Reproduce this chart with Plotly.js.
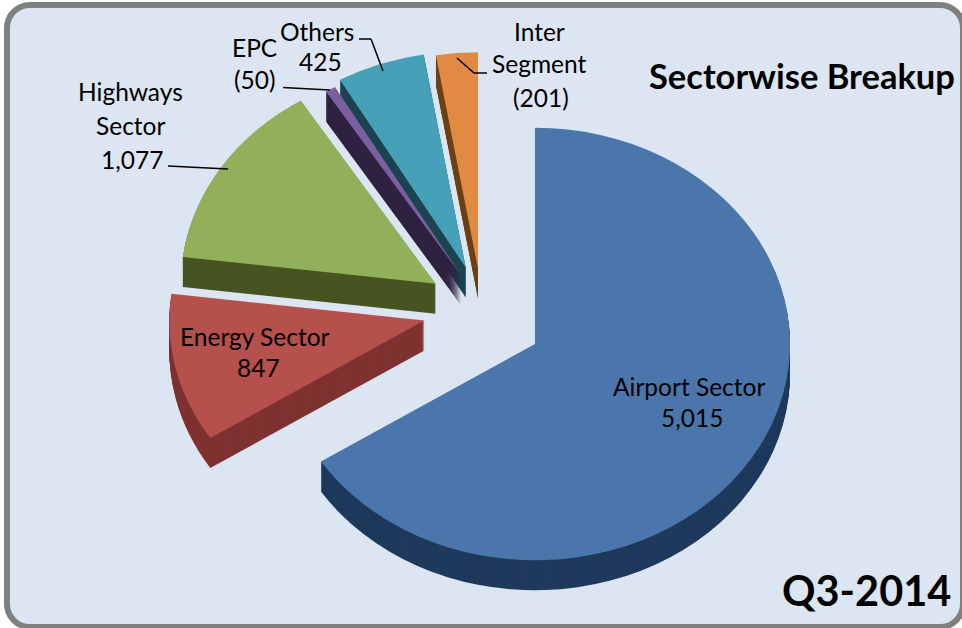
<!DOCTYPE html>
<html><head><meta charset="utf-8">
<script src="https://cdn.plot.ly/plotly-3.0.1.min.js"></script>
<style>
html,body{margin:0;padding:0;background:#fff;width:962px;height:628px;overflow:hidden}
#frame{position:absolute;left:4px;top:2px;width:962px;height:628px;box-sizing:border-box;border:6px solid #808080;border-radius:26px;background:#dce6f2}
#chart{position:absolute;left:0;top:0;width:962px;height:628px}
</style></head><body>
<div id="frame"></div>
<div id="chart"></div>
<script>
const categories = ["Airport Sector","Energy Sector","Highways Sector","EPC","Others","Inter Segment"];
const values = [5015,847,1077,50,425,201];
const pulls = [0,0.45,0.49,0.41,0.47,0.35];
const topColors = ["#4a76ac","#b5504d","#92b05a","#7c5fa0","#46a0b8","#e08a42"];
const sideColors = ["#1f3a5c","#7f3331","#465522","#2e2240","#1b4450","#6b4018"];
const W=962,H=628;
const px=x=>x/W, py=y=>1-y/H;
const layers=30, depth=30;
const traces=[];
for(let i=0;i<=layers;i++){
  traces.push({type:'pie',labels:categories,values:values,pull:pulls,sort:false,direction:'clockwise',rotation:0,
    textinfo:'none',hoverinfo:'label+value',showlegend:false,
    marker:{colors:i===layers?topColors:sideColors,line:{width:0}},domain:{x:[0,1],y:[0,1]}});
}
const notes=[
 ["Airport Sector",689,386,24.5],["5,015",692,417,24.5],
 ["Energy Sector",255,336,24.5],["847",258,367,24.5],
 ["Highways",130,92,24.5],["Sector",130,125,24.5],["1,077",132,159,24.5],
 ["EPC",254,47,24.5],["(50)",255,79,24.5],
 ["Others",317,31,24.5],["425",320,61,24.5],
 ["Inter",539,32,24.5],["Segment",539,64,24.5],["(201)",541,97,24.5],
 ["<b>Sectorwise Breakup</b>",802,75,34.5],
 ["<b>Q3-2014</b>",866,590,41.5]
];
const seg=(a,b,c,d)=>({type:'line',xref:'paper',yref:'paper',x0:px(a),y0:py(b),x1:px(c),y1:py(d),line:{color:'#000',width:1.5}});
const layout={width:W,height:H,margin:{l:0,r:0,t:0,b:0},paper_bgcolor:'rgba(0,0,0,0)',plot_bgcolor:'rgba(0,0,0,0)',showlegend:false,
 font:{family:'Lato, sans-serif',size:24,color:'#000'},
 annotations:notes.map(n=>({text:n[0],x:px(n[1]),y:py(n[2]),xref:'paper',yref:'paper',xanchor:'center',yanchor:'middle',showarrow:false,font:{size:n[3],family:'Lato, sans-serif',color:'#000'}})),
 shapes:[seg(168,166,228,169),seg(283,87.5,330,90),seg(359,39,371,39),seg(371,39,383,71),seg(487,73,474,73),seg(474,73,457,58)]
};
Plotly.newPlot('chart',traces,layout,{displayModeBar:false,staticPlot:true}).then(()=>{
  const sx=1.21, sy=1.026, cx=W/2, cy=H/2, tx=535, ty=344;
  const nudges=[[0,0],[1,-44],[5,-3],[-17,7],[-24,19],[-41,0]];
  document.querySelectorAll('.pielayer .trace').forEach((g,i)=>{
    const d=(layers-i)*depth/layers;
    g.setAttribute('transform',`translate(${tx-sx*cx},${ty+d-sy*cy}) scale(${sx},${sy})`);
    g.querySelectorAll('.slice path').forEach((p,j)=>p.setAttribute('transform',`translate(${nudges[j][0]},${nudges[j][1]})`));
  });
});
</script>
</body></html>
